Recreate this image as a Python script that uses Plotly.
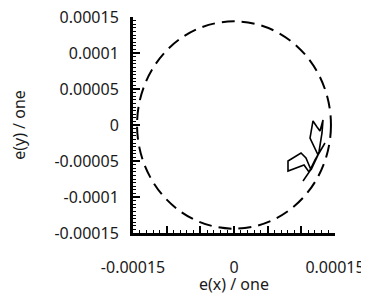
import plotly.graph_objects as go

# trajectory
ex = [1.025e-4, 1.158e-4, 1.262e-4, 1.307e-4, 1.322e-4, 1.277e-4, 1.233e-4, 1.173e-4,
      1.129e-4, 1.188e-4, 1.248e-4, 1.144e-4, 1.069e-4, 9.95e-5, 8.02e-5, 8.02e-5,
      1.04e-4, 1.114e-4, 1.203e-4, 1.351e-4]
ey = [-7.78e-5, -5.97e-5, -3.75e-5, -1.11e-5, 6.9e-6, -8.3e-6, -2.8e-6, 5.6e-6,
      -1.81e-5, -2.92e-5, -4.17e-5, -6.25e-5, -4.58e-5, -3.89e-5, -5.0e-5, -6.39e-5,
      -5.56e-5, -6.53e-5, -4.86e-5, -2.5e-5]

circle_radius = 0.000144

x_tickvals = [-0.00015, -0.0001, -0.00005, 0, 0.00005, 0.0001, 0.00015]
x_ticktext = ["-0.00015", "", "", "0", "", "", "0.00015"]
y_tickvals = [0.00015, 0.0001, 0.00005, 0, -0.00005, -0.0001, -0.00015]
y_ticktext = ["0.00015", "0.0001", "0.00005", "0", "-0.00005", "-0.0001", "-0.00015"]

FONT = "Noto Sans"
TXT = "#1a1a1a"

fig = go.Figure()
fig.add_trace(go.Scatter(x=ex, y=ey, mode="lines",
                         line=dict(color="black", width=1.6), showlegend=False))

fig.add_shape(type="circle", xref="x", yref="y",
              x0=-circle_radius, x1=circle_radius, y0=-circle_radius, y1=circle_radius,
              line=dict(color="black", width=2, dash="13px,7px"))

axis_common = dict(
    showline=True, linecolor="black", linewidth=3, mirror=False,
    showgrid=False, zeroline=False, automargin=False,
    ticks="inside", ticklen=7, tickwidth=2, tickcolor="black",
    tickmode="array", ticklabeloverflow="allow",
    tickfont=dict(family=FONT, size=16, color=TXT),
)

fig.update_xaxes(**axis_common, range=[-0.00015, 0.00015],
                 tickvals=x_tickvals, ticktext=x_ticktext,
                 ticklabelstandoff=18,
                 minor=dict(dtick=0.00001, ticks="inside", ticklen=3, tickwidth=1, tickcolor="black", showgrid=False))
fig.update_yaxes(**axis_common, range=[-0.00015, 0.00015],
                 tickvals=y_tickvals, ticktext=y_ticktext,
                 ticklabelstandoff=8,
                 minor=dict(dtick=0.000005, ticks="inside", ticklen=3, tickwidth=1, tickcolor="black", showgrid=False),
                 title=dict(text="e(y) / one", font=dict(family=FONT, size=16, color=TXT), standoff=26))

fig.add_annotation(text="e(x) / one", xref="paper", yref="paper", x=0.5, y=0,
                   xanchor="center", yanchor="middle", yshift=-51, showarrow=False,
                   font=dict(family=FONT, size=16, color=TXT))

# page body adds an 8px offset; margins compensate for it
fig.update_layout(
    width=369, height=297,
    margin=dict(l=125, r=42, t=9, b=72),
    plot_bgcolor="white", paper_bgcolor="white",
    showlegend=False,
)

fig.write_html("out.html")
